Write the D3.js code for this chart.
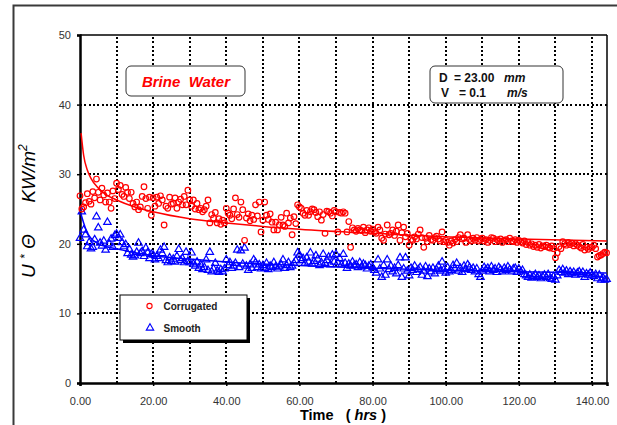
<!DOCTYPE html>
<html><head><meta charset="utf-8">
<script src="https://cdn.jsdelivr.net/npm/d3@7"></script>
<style>body{margin:0;background:#fff}svg{display:block}text{font-family:"Liberation Sans",Arial,sans-serif}</style>
</head><body><svg id="c" width="617" height="425"></svg>
<script>
const times = [
0,0.5,1,1.5,2,2.5,3,3.5,4,4.5,5,5.5,6,6.5,7,7.5,8,8.5,9,9.5,
10,10.5,11,11.5,12,12.5,13,13.5,14,14.5,15,15.5,16,16.5,17,17.5,18,18.5,19,19.5,
20,20.5,21,21.5,22,22.5,23,23.5,24,24.5,25,25.5,26,26.5,27,27.5,28,28.5,29,29.5,
30,30.5,31,31.5,32,32.5,33,33.5,34,34.5,35,35.5,36,36.5,37,37.5,38,38.5,39,39.5,
40,40.5,41,41.5,42,42.5,43,43.5,44,44.5,45,45.5,46,46.5,47,47.5,48,48.5,49,49.5,
50,50.5,51,51.5,52,52.5,53,53.5,54,54.5,55,55.5,56,56.5,57,57.5,58,58.5,59,59.5,
60,60.5,61,61.5,62,62.5,63,63.5,64,64.5,65,65.5,66,66.5,67,67.5,68,68.5,69,69.5,
70,70.5,71,71.5,72,72.5,73,73.5,74,74.5,75,75.5,76,76.5,77,77.5,78,78.5,79,79.5,
80,80.5,81,81.5,82,82.5,83,83.5,84,84.5,85,85.5,86,86.5,87,87.5,88,88.5,89,89.5,
90,90.5,91,91.5,92,92.5,93,93.5,94,94.5,95,95.5,96,96.5,97,97.5,98,98.5,99,99.5,
100,100.5,101,101.5,102,102.5,103,103.5,104,104.5,105,105.5,106,106.5,107,107.5,108,108.5,109,109.5,
110,110.5,111,111.5,112,112.5,113,113.5,114,114.5,115,115.5,116,116.5,117,117.5,118,118.5,119,119.5,
120,120.5,121,121.5,122,122.5,123,123.5,124,124.5,125,125.5,126,126.5,127,127.5,128,128.5,129,129.5,
130,130.5,131,131.5,132,132.5,133,133.5,134,134.5,135,135.5,136,136.5,137,137.5,138,138.5,139,139.5,
140,140.5,141,141.5,142,142.5,143,143.5,144];

const corrugated = [
26.9,25.0,25.3,25.9,27.2,26.1,25.7,27.5,26.6,29.3,27.4,26.3,28.0,27.0,26.0,27.3,26.0,25.1,27.6,26.5,
28.7,27.8,28.4,27.1,26.8,28.1,27.4,26.5,27.4,25.8,25.3,26.0,24.9,25.3,26.8,28.2,26.5,25.1,26.7,24.1,
26.6,25.4,26.7,25.8,26.9,26.3,22.7,25.4,25.1,26.7,25.7,25.8,26.6,25.1,26.0,26.4,25.6,26.8,25.6,27.7,
26.3,25.4,26.3,25.0,25.8,24.9,25.1,24.6,24.9,25.4,26.3,23.0,24.2,23.7,24.5,23.0,23.6,22.8,23.4,23.0,
25.1,24.4,24.1,23.6,25.0,26.6,24.2,23.8,26.0,24.9,20.5,23.7,24.3,23.3,24.1,23.5,25.6,24.0,26.0,21.7,
23.4,26.0,24.1,23.5,24.3,23.1,22.0,23.1,22.0,22.7,23.8,22.7,22.5,24.4,23.0,23.7,21.3,23.9,22.9,25.6,
25.3,25.1,24.4,24.1,24.8,24.1,24.6,25.0,24.9,24.5,23.9,24.6,23.4,24.2,21.5,24.7,24.6,24.4,24.0,24.8,
24.6,21.7,24.5,24.4,24.6,24.4,21.7,23.2,19.5,22.3,22.0,21.8,22.2,22.0,21.9,22.4,21.6,22.0,22.3,21.8,
22.1,21.7,21.5,22.4,22.0,20.8,20.5,21.4,22.7,21.3,21.5,22.0,21.2,21.8,22.7,20.5,21.6,22.4,21.0,21.5,
19.8,20.6,20.5,21.0,20.7,21.4,22.0,20.9,19.5,20.8,20.3,21.2,20.6,20.5,20.9,21.1,20.7,20.4,21.7,20.3,
20.5,20.2,19.8,20.4,20.1,20.6,20.3,20.9,21.3,20.7,20.8,20.2,21.3,20.6,20.4,20.8,20.5,20.9,20.4,20.6,
20.8,20.4,20.6,20.2,20.5,20.9,20.8,20.3,20.6,20.4,20.7,20.2,20.5,20.6,20.3,20.8,20.4,20.3,20.6,20.2,
20.5,20.3,20.1,20.4,19.9,20.2,19.8,20.0,19.6,19.8,19.5,19.9,19.4,19.7,19.6,19.8,19.5,19.4,19.7,19.3,
18.0,18.7,19.6,19.3,20.3,20.0,19.8,20.2,19.9,20.1,19.7,20.0,19.8,19.6,19.4,19.9,19.1,19.5,19.2,19.5,
19.5,19.8,19.3,18.1,18.3,18.4,18.6,18.8,18.7];

const smooth = [
20.8,24.6,22.0,21.3,19.6,20.2,19.3,19.5,20.6,23.9,22.3,20.1,19.7,20.4,19.1,23.1,20.0,20.7,19.5,21.2,
21.4,20.8,21.3,20.2,19.6,19.9,18.6,19.2,18.4,18.1,18.3,18.8,20.1,18.6,18.9,18.2,19.4,18.7,17.9,18.5,
18.4,17.7,18.2,17.9,19.1,18.6,19.5,17.6,17.3,18.0,17.5,17.8,17.4,18.2,19.2,17.6,17.9,17.3,18.8,17.5,
17.3,18.7,17.1,16.8,17.4,16.5,17.0,16.3,16.6,17.7,16.2,18.8,16.0,16.4,17.2,16.1,15.9,16.3,16.0,16.4,
17.7,16.9,17.3,16.5,16.8,17.2,19.1,16.6,19.0,17.1,19.4,16.8,16.2,17.0,16.5,17.7,17.3,16.6,17.0,16.4,
16.9,16.5,17.2,16.3,16.8,16.6,17.3,16.7,16.4,16.7,17.0,17.7,16.5,16.9,17.3,16.6,16.8,17.2,17.6,18.7,
18.4,17.6,17.9,17.2,18.0,17.4,18.7,17.1,17.5,18.3,17.8,16.9,17.3,18.5,17.2,17.6,18.1,17.0,18.4,17.4,
18.5,17.3,17.9,17.0,18.5,17.2,16.5,17.1,16.8,17.4,16.9,17.0,16.6,17.3,16.7,17.1,16.9,16.4,16.8,17.0,
16.6,16.2,15.8,17.7,16.4,15.2,16.9,15.5,17.7,16.3,16.8,16.0,16.5,15.7,16.9,18.0,15.2,16.4,18.0,16.1,
15.4,16.5,16.2,16.8,15.9,16.3,16.6,15.5,16.1,16.7,15.3,16.4,16.0,16.5,15.7,16.3,16.8,16.1,17.4,16.3,
15.8,16.6,16.0,16.2,16.9,16.4,17.2,16.1,16.5,15.9,16.8,16.3,17.0,16.6,16.2,16.5,16.0,16.4,15.6,15.2,
16.1,16.6,16.3,16.5,16.0,16.7,16.2,16.4,15.9,16.6,16.3,16.0,16.5,16.2,16.7,16.3,16.0,16.4,16.5,15.9,
16.4,16.0,16.2,15.6,15.4,15.2,15.5,15.1,15.3,15.6,15.2,15.4,15.0,15.3,15.5,15.2,15.6,15.0,14.9,15.3,
14.8,15.4,16.2,15.9,16.3,15.8,16.1,15.6,16.0,15.7,15.9,15.5,15.8,16.0,15.6,15.9,15.2,15.7,15.5,15.8,
15.5,15.3,15.6,15.0,15.5,14.8,15.1,14.8,14.9];

// trendline readings
const trendTimes = [0.3,1,2,3,5,7,10,15,20,30,40,50,60,80,100,120,144];
const corrTrend  = [35.9,32.7,30.6,29.4,28.0,27.1,26.3,25.3,24.6,23.6,23.0,22.5,22.1,21.5,21.0,20.7,20.4];
const smoothTrend= [24.2,23.0,21.6,20.8,20.0,19.6,19.3,18.7,18.3,17.8,17.4,17.1,16.9,16.5,16.2,16.0,15.8];

const xTickValues = [0,20,40,60,80,100,120,140];
const xTickLabels = ["0.00","20.00","40.00","60.00","80.00","100.00","120.00","140.00"];
const yTickValues = [0,10,20,30,40,50];
const xGrid = [10,20,30,40,50,60,70,80,90,100,110,120,130,140];
const yGrid = [10,20,30,40];

const svg = d3.select("#c");
const L=80, R=607, T=35, B=383;
const x = d3.scaleLinear().domain([0,144.1]).range([L,R]);
const y = d3.scaleLinear().domain([0,50]).range([B,T]);

// outer frame
svg.append("rect").attr("x",13.5).attr("y",5.5).attr("width",640).attr("height",440)
  .attr("fill","none").attr("stroke","#3a3a3a").attr("stroke-width",2);

// grid
const g = svg.append("g").attr("shape-rendering","crispEdges");
g.selectAll(".vg").data(xGrid).join("line")
  .attr("x1",d=>Math.round(x(d))).attr("x2",d=>Math.round(x(d))).attr("y1",T+2).attr("y2",B)
  .attr("stroke","#000").attr("stroke-width",2).attr("stroke-dasharray","2,2.3");
g.selectAll(".hg").data(yGrid).join("line")
  .attr("x1",L).attr("x2",R).attr("y1",d=>Math.round(y(d))).attr("y2",d=>Math.round(y(d)))
  .attr("stroke","#000").attr("stroke-width",2).attr("stroke-dasharray","2,2.3");

// plot border
svg.append("line").attr("x1",L).attr("x2",R).attr("y1",T).attr("y2",T).attr("stroke","#000").attr("stroke-width",1.5);
svg.append("line").attr("x1",R).attr("x2",R).attr("y1",T).attr("y2",B).attr("stroke","#000").attr("stroke-width",1.5);

// axes
const xAxis = d3.axisBottom(x).tickValues(xTickValues).tickFormat((d,i)=>xTickLabels[i]).tickSize(3).tickPadding(11);
const yAxis = d3.axisLeft(y).tickValues(yTickValues).tickFormat(d3.format("d")).tickSize(3).tickPadding(6);
const gx = svg.append("g").attr("transform",`translate(0,${B})`).call(xAxis);
const gy = svg.append("g").attr("transform",`translate(${L},0)`).call(yAxis);
[gx,gy].forEach(a=>{
  a.select(".domain").attr("stroke","#000").attr("stroke-width",2.5);
  a.selectAll(".tick line").attr("stroke","#000").attr("stroke-width",1.5);
  a.selectAll(".tick text").attr("fill","#333").style("font-size","11px").style("font-family","Liberation Sans, Arial, sans-serif");
});

// trendlines
const line = d3.line().x(d=>x(d[0])).y(d=>y(d[1])).curve(d3.curveMonotoneX);
svg.append("path").attr("d",line(trendTimes.map((t,i)=>[t,corrTrend[i]])))
  .attr("fill","none").attr("stroke","#ff0000").attr("stroke-width",1.5);
svg.append("path").attr("d",line(trendTimes.map((t,i)=>[t,smoothTrend[i]])))
  .attr("fill","none").attr("stroke","#0000ff").attr("stroke-width",1.5);

// points
const tri = d3.symbol().type(d3.symbolTriangle).size(24);
svg.append("g").selectAll("path").data(times.map((t,i)=>[t,smooth[i]])).join("path")
  .attr("d",tri).attr("transform",d=>`translate(${x(d[0])},${y(d[1])})`)
  .attr("fill","none").attr("stroke","#0000ff").attr("stroke-width",1.2);
svg.append("g").selectAll("circle").data(times.map((t,i)=>[t,corrugated[i]])).join("circle")
  .attr("cx",d=>x(d[0])).attr("cy",d=>y(d[1])).attr("r",2.8)
  .attr("fill","none").attr("stroke","#ff0000").attr("stroke-width",1.2);

// Brine Water box
svg.append("rect").attr("x",126).attr("y",66).attr("width",119).attr("height",30).attr("rx",5)
  .attr("fill","#fff").attr("stroke","#333").attr("stroke-width",1);
svg.append("text").attr("x",186).attr("y",86.5).attr("text-anchor","middle")
  .attr("fill","#ff0000").style("font-size","15px").style("font-weight","bold").style("font-style","italic")
  .attr("xml:space","preserve").text("Brine  Water");

// D / V box
svg.append("rect").attr("x",430).attr("y",66).attr("width",133).attr("height",37).attr("rx",5)
  .attr("fill","#fff").attr("stroke","#333").attr("stroke-width",1);
const info = svg.append("g").style("font-size","12px").style("font-weight","bold").attr("fill","#111");
info.append("text").attr("x",439).attr("y",81.5).text("D");
info.append("text").attr("x",454).attr("y",81.5).text("= 23.00");
info.append("text").attr("x",504).attr("y",81.5).style("font-style","italic").text("mm");
info.append("text").attr("x",441).attr("y",96.5).text("V");
info.append("text").attr("x",459).attr("y",96.5).text("= 0.1");
info.append("text").attr("x",507).attr("y",96.5).style("font-style","italic").text("m/s");

// legend
svg.append("rect").attr("x",123).attr("y",298).attr("width",127).attr("height",45).attr("fill","#000");
svg.append("rect").attr("x",120).attr("y",295).attr("width",127).attr("height",45)
  .attr("fill","#fff").attr("stroke","#000").attr("stroke-width",1);
svg.append("circle").attr("cx",149.5).attr("cy",306).attr("r",2.6).attr("fill","none").attr("stroke","#ff0000").attr("stroke-width",1.1);
svg.append("path").attr("d",tri).attr("transform","translate(150,328)").attr("fill","none").attr("stroke","#0000ff").attr("stroke-width",1.1);
const lg = svg.append("g").style("font-size","10px").style("font-weight","bold").attr("fill","#222");
lg.append("text").attr("x",163.5).attr("y",309.5).text("Corrugated");
lg.append("text").attr("x",163.5).attr("y",331.5).text("Smooth");

// x axis title
const xt = svg.append("text").attr("x",300).attr("y",420).style("font-size","14.5px").style("font-weight","bold").attr("fill","#000").attr("xml:space","preserve");
xt.append("tspan").text("Time   ( ");
xt.append("tspan").style("font-style","italic").text("hrs");
xt.append("tspan").text(" )");

// y axis title
const yt = svg.append("text").attr("transform","translate(35,278) rotate(-90)").style("font-size","19px").style("font-style","italic").attr("fill","#000").attr("xml:space","preserve");
yt.append("tspan").text("U ");
yt.append("tspan").attr("dy",-6).style("font-size","12px").text("*");
yt.append("tspan").attr("dy",6).text(" Θ      KW/m");
yt.append("tspan").attr("dy",-8).style("font-size","12px").text("2");
</script></body></html>
